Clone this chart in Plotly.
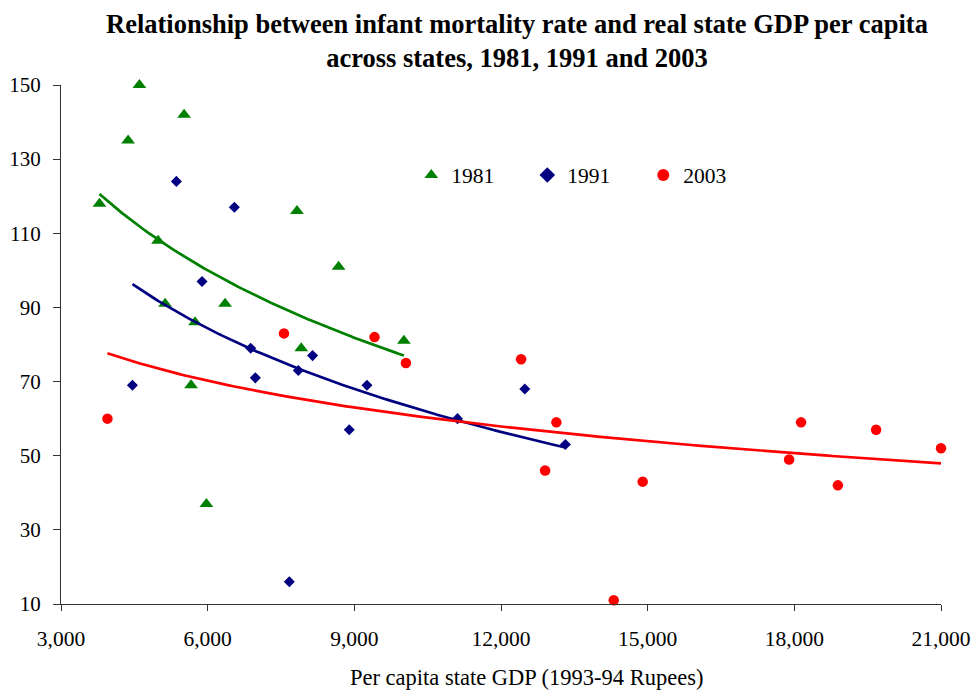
import numpy as np
import plotly.graph_objects as go

# ---- data ----
gdp_1981 = [4604, 5518, 4373, 3787, 7827, 4986, 8678, 5129, 6356, 5742, 7915, 10014, 5661, 5974]
imr_1981 = [150, 142, 135, 118, 116, 108, 101, 91, 91, 86, 79, 81, 69, 37]

gdp_1991 = [5360, 6546, 5885, 6880, 8146, 4461, 6975, 7854, 9258, 8896, 7670, 12487, 11110, 13317]
imr_1991 = [124, 117, 97, 79, 77, 69, 71, 73, 69, 57, 16, 68, 60, 53]

gdp_2003 = [3950, 7561, 9413, 10055, 12411, 12902, 13133, 14306, 14898, 17893, 18138, 18891, 19673, 21000]
imr_2003 = [60, 83, 82, 75, 76, 46, 59, 11, 43, 49, 59, 42, 57, 52]

x_ticks = [3000, 6000, 9000, 12000, 15000, 18000, 21000]
y_ticks = [10, 30, 50, 70, 90, 110, 130, 150]

series = [
    ("1981", gdp_1981, imr_1981, "#008000", "triangle-up", 12),
    ("1991", gdp_1991, imr_1991, "#000080", "diamond", 8.5),
    ("2003", gdp_2003, imr_2003, "#FF0000", "circle", 10.5),
]

FONT = "Liberation Serif"

# plot area in pixels
L, R, T, B = 60.5, 941, 85, 604
PW, PH = R - L, B - T

fig = go.Figure()

for name, xs, ys, col, sym, sz in series:
    fig.add_trace(go.Scatter(
        x=xs, y=ys, mode="markers", name=name, cliponaxis=False,
        marker=dict(color=col, symbol=sym, size=sz, line=dict(width=0)),
    ))

# logarithmic trendlines (least squares on ln x), like Excel
for name, xs, ys, col, sym, sz in series:
    xa = np.array(xs, dtype=float)
    ya = np.array(ys, dtype=float)
    b, a = np.polyfit(np.log(xa), ya, 1)
    xf = np.linspace(xa.min(), xa.max(), 200)
    yf = a + b * np.log(xf)
    fig.add_trace(go.Scatter(
        x=xf, y=yf, mode="lines", showlegend=False, hoverinfo="skip",
        line=dict(color=col, width=2.7),
    ))

fig.update_layout(
    width=980, height=690,
    margin=dict(l=L, r=980 - R, t=T, b=690 - B),
    paper_bgcolor="white", plot_bgcolor="white",
    font=dict(family=FONT, size=21, color="black"),
    legend=dict(
        orientation="h", x=(411 - L) / PW, xanchor="left",
        y=(B - 175) / PH, yanchor="middle",
        font=dict(family=FONT, size=21.5, color="black"),
        bgcolor="rgba(0,0,0,0)", entrywidth=71, entrywidthmode="pixels",
        itemsizing="constant",
    ),
    showlegend=True,
)

fig.update_xaxes(
    range=[3000, 21000], tickvals=x_ticks, tickformat=",d", automargin=False,
    showgrid=False, zeroline=False, showline=True, linecolor="#333333", linewidth=1.3,
    ticks="outside", ticklen=6, tickcolor="#333333", tickwidth=1.2,
    ticklabelstandoff=9,
    tickfont=dict(family=FONT, size=21.5, color="black"),
)
fig.update_yaxes(
    range=[10, 150], tickvals=y_ticks, automargin=False,
    showgrid=False, zeroline=False, showline=True, linecolor="#333333", linewidth=1.3,
    ticks="outside", ticklen=7, tickcolor="#333333", tickwidth=1.2,
    ticklabelstandoff=8,
    tickfont=dict(family=FONT, size=21, color="black"),
)

# chart title
fig.add_annotation(
    text="<b>Relationship between infant mortality rate and real state GDP per capita<br>across states, 1981, 1991 and 2003</b>",
    xref="paper", yref="paper", x=(517 - L) / PW, y=(B - 41) / PH,
    xanchor="center", yanchor="middle", showarrow=False,
    font=dict(family=FONT, size=26.5, color="black"),
)

# x-axis title
fig.add_annotation(
    text="Per capita state GDP (1993-94 Rupees)",
    xref="paper", yref="paper", x=(526 - L) / PW, y=-(677 - B) / PH,
    xanchor="center", yanchor="middle", showarrow=False,
    font=dict(family=FONT, size=22.5, color="black"),
)

fig.write_html("out.html")
